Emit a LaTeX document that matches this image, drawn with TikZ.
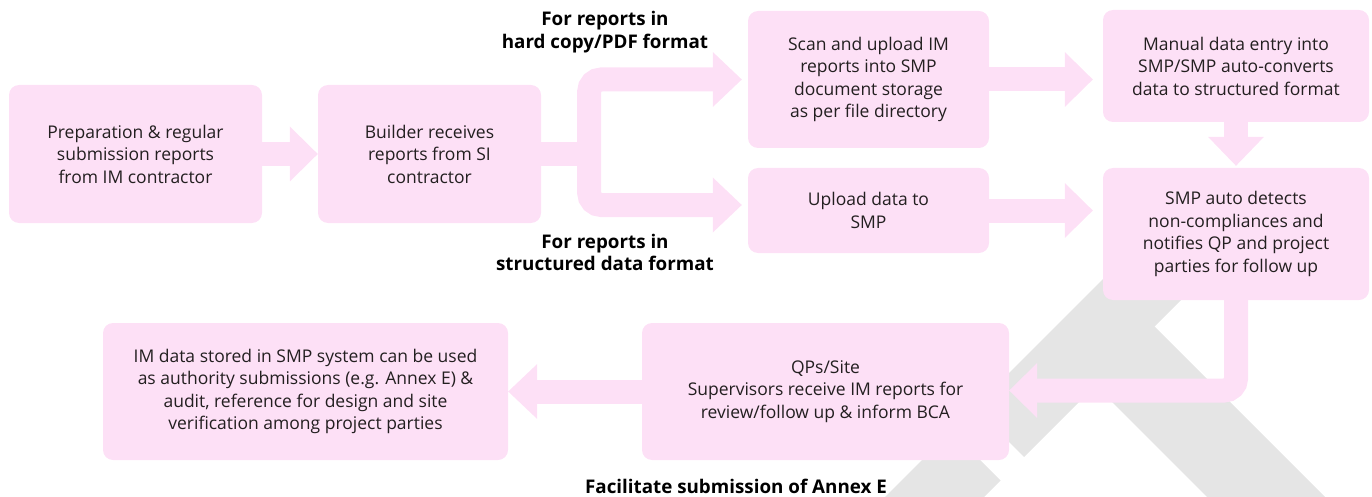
\documentclass[tikz,border=0pt]{standalone}
\usepackage{fontspec}
\setmainfont{Open Sans}
\usetikzlibrary{calc}
\definecolor{pk}{RGB}{253,224,246}
\definecolor{wm}{RGB}{229,229,229}
\definecolor{txt}{RGB}{35,31,32}
\newcommand\headH[2]{\fill[pk] let \p1=(#1), \p2=(#2) in (\x1,\y1+27.5pt) -- (\x2,\y2) -- (\x1,\y1-27.5pt) -- cycle;}
\newcommand\headV[2]{\fill[pk] let \p1=(#1), \p2=(#2) in (\x1-28pt,\y1) -- (\x2,\y2) -- (\x1+28pt,\y1) -- cycle;}
\begin{document}
\begin{tikzpicture}[x=1pt,y=-1pt,
  box/.style={fill=pk, rounded corners=10pt, align=center, text=txt, inner sep=0pt,
    font=\fontsize{17.5}{22.5}\selectfont},
  lbl/.style={align=center, text=black, inner sep=0pt, font=\bfseries\fontsize{18.8}{22.5}\selectfont},
  band/.style={line width=24pt, draw=pk, rounded corners=12pt},
  shaft/.style={line width=24pt, draw=pk}]
\useasboundingbox (0,0) rectangle (1372,497);
% watermark
\begin{scope}
\clip (0,0) rectangle (1372,497);
\fill[wm] (951,431) -- (1000.5,480.5) -- (961,520) -- (862,520) -- cycle;
\fill[wm] (974.5,407.5) -- (1024,457) -- (1240.5,240.5) -- (1191,191) -- cycle;
\fill[wm] (1075,365) -- (1134,306) -- (1348,520) -- (1230,520) -- cycle;
\end{scope}
% boxes
\node[box, minimum width=253, minimum height=138] (b1) at (135.5,154) {Preparation \& regular\\submission reports\\from IM contractor};
\node[box, minimum width=223, minimum height=138] (b2) at (429.5,154) {Builder receives\\reports from SI\\contractor};
\node[box, minimum width=241, minimum height=137] (b3) at (868.5,79.5) {Scan and upload IM\\reports into SMP\\document storage\\as per file directory};
\node[box, minimum width=241, minimum height=85] (b4) at (868.5,210.5) {Upload data to\\SMP};
\node[box, minimum width=266, minimum height=112] (b5) at (1236,66) {Manual data entry into\\SMP/SMP auto-converts\\data to structured format};
\node[box, minimum width=266, minimum height=132] (b6) at (1236,234) {SMP auto detects\\non-compliances and\\notifies QP and project\\parties for follow up};
\node[box, minimum width=367, minimum height=137] (b7) at (825.5,391.5) {QPs/Site\\Supervisors receive IM reports for\\review/follow up \& inform BCA};
\node[box, minimum width=405, minimum height=137] (b8) at (305.5,391.5) {IM data stored in SMP system can be used\\as authority submissions (e.g. Annex E) \&\\audit, reference for design and site\\verification among project parties};
% labels
\node[lbl] (l1) at (605,32) {For reports in\\hard copy/PDF format};
\node[lbl] (l2) at (605,252.5) {For reports in\\structured data format};
\node[lbl] (l3) at (736,486) {Facilitate submission of Annex E};
% arrow b1 -> b2
\coordinate (a12b) at ($(b2.west)+(-28,0)$);
\draw[shaft] (b1.east) -- (a12b);
\headH{a12b}{b2.west}
% fork b2 -> b3 / b4
\coordinate (fj) at ($(b2.east)+(48,0)$);
\coordinate (fta) at ($(b3.west)+(-35,0)$);
\coordinate (ftt) at ($(b3.west)+(-6,0)$);
\coordinate (fba) at ($(b4.west)+(-35,-5.5)$);
\coordinate (fbt) at ($(b4.west)+(-6,-5.5)$);
\draw[shaft] (b2.east) -- (fj);
\draw[band] (fta) -| (fj) |- (fba);
\headH{fta}{ftt}
\headH{fba}{fbt}
% b3 -> b5
\coordinate (a35t) at ($(b3.east -| b5.west)+(-10,0)$);
\coordinate (a35b) at ($(b3.east -| b5.west)+(-38,0)$);
\draw[shaft] (b3.east) -- (a35b);
\headH{a35b}{a35t}
% b4 -> b6
\coordinate (a46t) at ($(b4.east -| b6.west)+(-10,0)$);
\coordinate (a46b) at ($(b4.east -| b6.west)+(-38,0)$);
\draw[shaft] (b4.east) -- (a46b);
\headH{a46b}{a46t}
% b5 -> b6
\coordinate (a56t) at ($(b6.north)+(0,-2)$);
\coordinate (a56b) at ($(b6.north)+(0,-31)$);
\draw[shaft] (b5.south) -- (a56b);
\headV{a56b}{a56t}
% b6 -> b7
\coordinate (a67t) at ($(b7.east)+(0,-1)$);
\coordinate (a67b) at ($(b7.east)+(28,-1)$);
\draw[band] (b6.south) |- (a67b);
\headH{a67b}{a67t}
% b7 -> b8
\coordinate (a78b) at ($(b8.east)+(29,0)$);
\draw[shaft] (b7.west) -- (a78b);
\headH{a78b}{b8.east}
\end{tikzpicture}
\end{document}
